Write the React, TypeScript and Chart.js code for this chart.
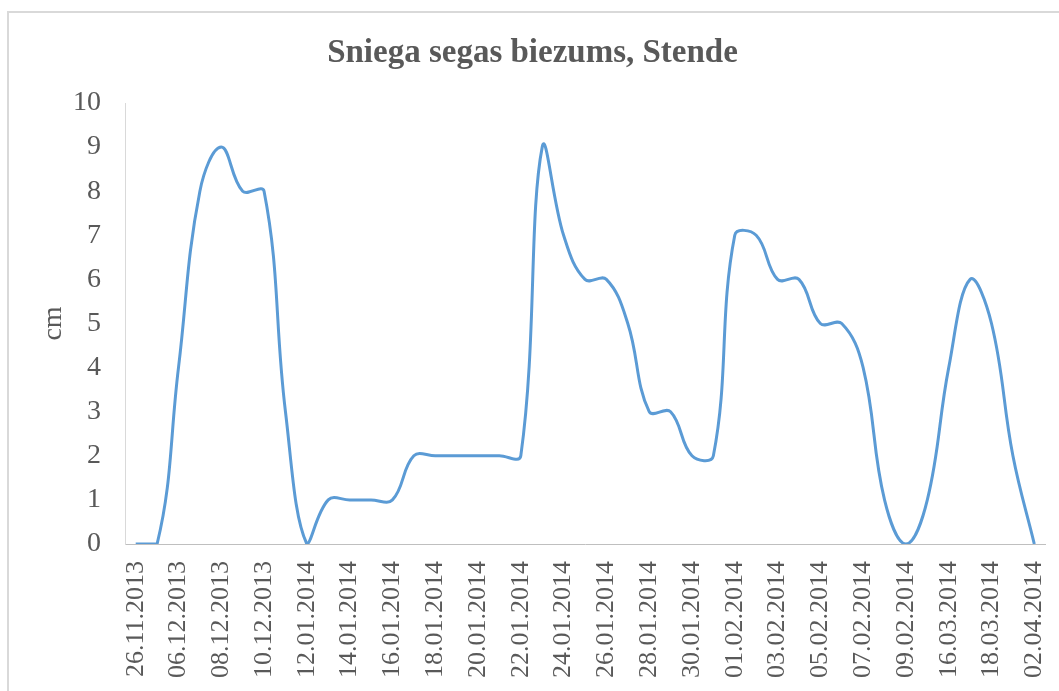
import React, { useEffect, useRef } from "react";
import { Chart, registerables } from "chart.js";

Chart.register(...registerables);

const chartTitle = "Sniega segas biezums, Stende";
const yAxisTitle = "cm";

// Labels shown on the axis (every other category)
const tickLabels = [
  "26.11.2013", "06.12.2013", "08.12.2013", "10.12.2013", "12.01.2014",
  "14.01.2014", "16.01.2014", "18.01.2014", "20.01.2014", "22.01.2014",
  "24.01.2014", "26.01.2014", "28.01.2014", "30.01.2014", "01.02.2014",
  "03.02.2014", "05.02.2014", "07.02.2014", "09.02.2014", "16.03.2014",
  "18.03.2014", "02.04.2014",
];

// Snow depth, cm (one value per category, 43 categories)
const snowDepth = [
  0, 0, 4, 8, 9, 8, 8, 3, 0, 1,
  1, 1, 1, 2, 2, 2, 2, 2, 2, 9,
  7, 6, 6, 5, 3, 3, 2, 2, 7, 7,
  6, 6, 5, 5, 4, 1, 0, 1, 4, 6,
  5, 2, 0,
];

const yTicks = [0, 1, 2, 3, 4, 5, 6, 7, 8, 9, 10];

const categories = snowDepth.map((_, i) => (i % 2 === 0 ? tickLabels[i / 2] : ""));

const FONT = "'Liberation Serif', 'Times New Roman', serif";
const TEXT = "#595959";

export default function App() {
  const ref = useRef<HTMLCanvasElement | null>(null);

  useEffect(() => {
    if (!ref.current) return;
    const chart = new Chart(ref.current, {
      type: "line",
      data: {
        labels: categories,
        datasets: [
          {
            data: snowDepth,
            borderColor: "#5B9BD5",
            borderWidth: 3,
            pointRadius: 0,
            tension: 0.4,
            fill: false,
          },
        ],
      },
      options: {
        responsive: false,
        animation: false,
        layout: { padding: { top: 14, left: 20, right: 14, bottom: 0 } },
        plugins: {
          legend: { display: false },
          tooltip: { enabled: false },
          title: {
            display: true,
            text: chartTitle,
            color: TEXT,
            font: { family: FONT, size: 33, weight: "bold" },
            padding: { top: 20, bottom: 29.4 },
          },
        },
        scales: {
          x: {
            type: "category",
            offset: true,
            grid: { display: true, drawOnChartArea: false, drawTicks: false },
            border: { display: true, color: "#bfbfbf", width: 1 },
            ticks: {
              autoSkip: false,
              maxRotation: 90,
              minRotation: 90,
              padding: 17,
              color: TEXT,
              font: { family: FONT, size: 26 },
            },
            afterFit: (scale: any) => {
              scale.height = 147;
              scale.paddingLeft = 0;
              scale.paddingRight = 0;
            },
          },
          y: {
            min: 0,
            max: 10,
            afterBuildTicks: (scale: any) => {
              scale.ticks = yTicks.map((v) => ({ value: v }));
            },
            grid: { display: true, drawOnChartArea: false, drawTicks: false },
            border: { display: true, color: "#d9d9d9", width: 1 },
            ticks: {
              padding: 24,
              color: TEXT,
              font: { family: FONT, size: 28 },
            },
            title: {
              display: true,
              text: yAxisTitle,
              color: TEXT,
              font: { family: FONT, size: 28 },
              padding: { top: 17, bottom: 0 },
            },
            afterFit: (scale: any) => {
              scale.width = 105;
            },
          },
        },
      },
    });
    return () => chart.destroy();
  }, []);

  return (
    <div
      style={{
        position: "fixed",
        left: 0,
        top: 0,
        width: 1059,
        height: 691,
        background: "#ffffff",
        overflow: "hidden",
      }}
    >
      <div
        style={{
          position: "absolute",
          left: 7,
          top: 11,
          width: 1200,
          height: 900,
          border: "2px solid #d9d9d9",
          boxSizing: "border-box",
        }}
      />
      <canvas
        ref={ref}
        width={1059}
        height={691}
        style={{ position: "absolute", left: 0, top: 0 }}
      />
    </div>
  );
}
